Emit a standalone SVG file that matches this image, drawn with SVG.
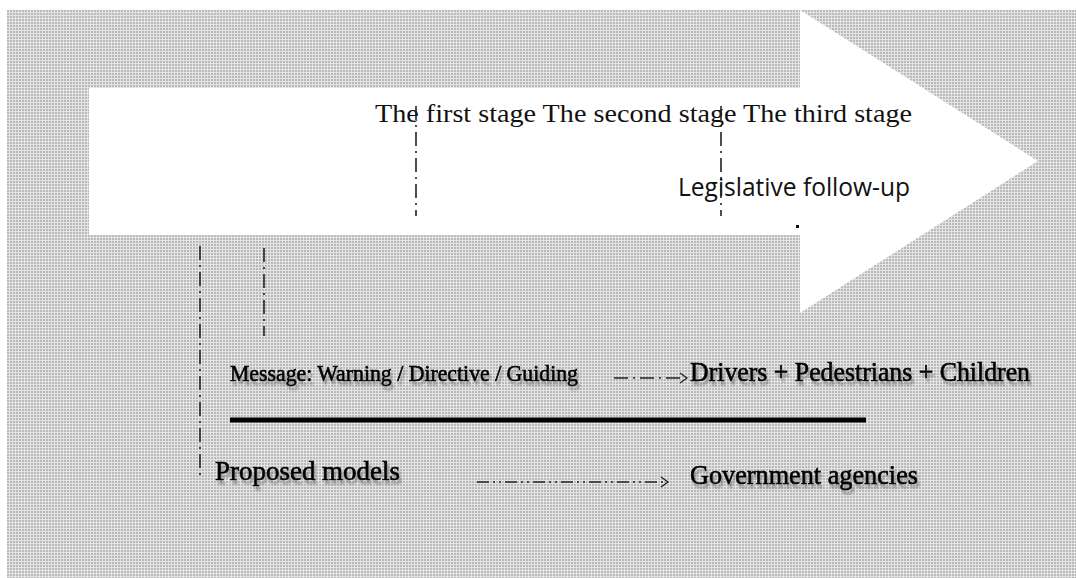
<svg xmlns="http://www.w3.org/2000/svg" width="1076" height="578" viewBox="0 0 1076 578">
  <defs>
    <pattern id="dots" x="7" y="10" width="3" height="3" patternUnits="userSpaceOnUse">
      <rect width="3" height="3" fill="#e4e4e4"/>
      <rect width="2" height="2" fill="#b9b9b9"/>
    </pattern>
    <filter id="sh" x="-5%" y="-30%" width="110%" height="180%">
      <feDropShadow dx="2" dy="4" stdDeviation="1" flood-color="#666" flood-opacity="0.6"/>
    </filter>
    <style>
      .serif { font-family: "Liberation Serif", "DejaVu Serif", serif; fill: #111; }
      .bold { font-family: "Liberation Serif", "DejaVu Serif", serif; fill: #000; stroke: #000; stroke-width: 0.7; filter: url(#sh); }
      .sans { font-family: "Open Sans", "Liberation Sans", sans-serif; fill: #111; }
      .dd { fill: none; stroke: #222; stroke-width: 1.6; stroke-dasharray: 14 5 2 5; }
      .dd2 { fill: none; stroke: #222; stroke-width: 1.5; stroke-dasharray: 12 4 2 4 2 4; }
      .chev { fill: none; stroke: #222; stroke-width: 1.3; }
    </style>
  </defs>
  <rect width="1076" height="578" fill="#ffffff"/>
  <rect x="7" y="10" width="1069" height="568" fill="url(#dots)"/>

  <g id="timeline-arrow">
    <polygon points="89,88 800,88 800,10 1038,161 800,313 800,235 89,235" fill="#ffffff"/>
    <text class="serif" x="375" y="122" font-size="26" textLength="537" lengthAdjust="spacingAndGlyphs">The first stage The second stage The third stage</text>
    <text class="sans" x="678" y="196" font-size="25" textLength="232" lengthAdjust="spacingAndGlyphs">Legislative follow-up</text>
    <rect x="796" y="225" width="3" height="3" fill="#111"/>
  </g>

  <g id="message">
    <text class="bold" x="230" y="381" font-size="24" textLength="348" lengthAdjust="spacingAndGlyphs">Message: Warning / Directive / Guiding</text>
  </g>
  <g id="drivers">
    <text class="bold" x="690" y="381" font-size="28" textLength="340" lengthAdjust="spacingAndGlyphs">Drivers + Pedestrians + Children</text>
  </g>
  <g id="proposed-models">
    <text class="bold" x="215" y="480" font-size="28" textLength="185" lengthAdjust="spacingAndGlyphs">Proposed models</text>
  </g>
  <g id="government-agencies">
    <text class="bold" x="690" y="484" font-size="28" textLength="228" lengthAdjust="spacingAndGlyphs">Government agencies</text>
  </g>

  <g id="connectors">
    <line class="dd" x1="416" y1="106" x2="416" y2="216"/>
    <line class="dd" x1="721" y1="106" x2="721" y2="216"/>
    <line class="dd" x1="200" y1="246" x2="200" y2="480"/>
    <line class="dd" x1="264" y1="248" x2="264" y2="336"/>
    <line x1="230" y1="420" x2="866" y2="420" stroke="#000" stroke-width="5"/>
    <line class="dd" x1="614" y1="378" x2="684" y2="378"/>
    <polyline class="chev" points="680,373 687,378 680,383"/>
    <line class="dd2" x1="477" y1="482" x2="664" y2="482"/>
    <polyline class="chev" points="661,477 668,482 661,487"/>
  </g>
</svg>
